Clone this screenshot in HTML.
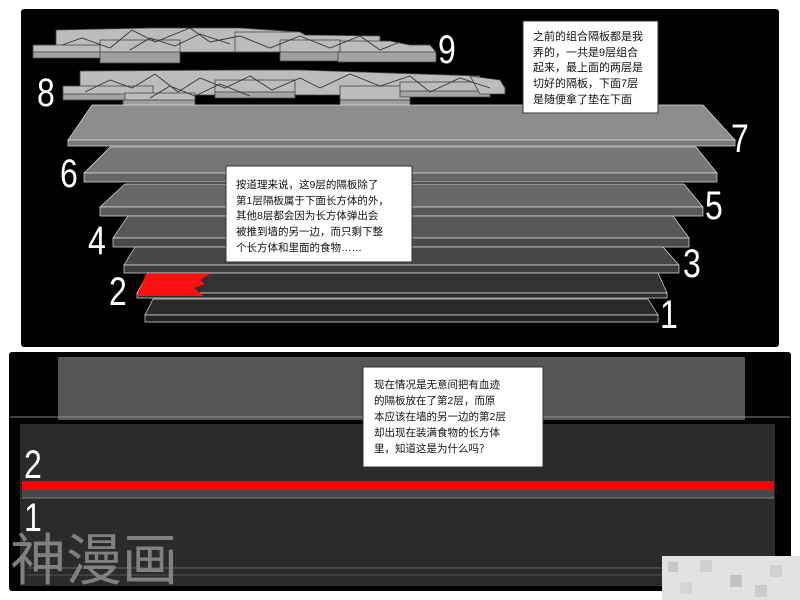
<!DOCTYPE html>
<html><head><meta charset="utf-8"><style>
html,body{margin:0;padding:0;background:#fff;width:800px;height:600px;overflow:hidden}
svg{display:block}
.t{font-family:"Liberation Sans","Noto Sans CJK SC",sans-serif;}
</style></head><body>
<svg width="800" height="600" viewBox="0 0 800 600" xmlns="http://www.w3.org/2000/svg">
<rect x="0" y="0" width="800" height="600" fill="#fff"/>
<rect x="21" y="9" width="758" height="338" rx="3" fill="#000"/>
<!-- puzzle row 9 -->
<g fill="#bcbcbc" stroke="#444" stroke-width="0.8">
<polygon points="56,30 150,28 240,28 300,32 300,52 56,52"/>
<rect x="33" y="45" width="110" height="10"/><rect x="33" y="52" width="110" height="6" fill="#a4a4a4"/>
<rect x="100" y="40" width="80" height="14"/><rect x="100" y="52" width="80" height="11" fill="#a0a0a0"/>
<polygon points="235,32 300,32 305,35 380,36 380,52 235,52"/>
<rect x="280" y="40" width="60" height="14"/><rect x="280" y="52" width="60" height="9" fill="#a0a0a0"/>
<polygon points="340,41 390,41 410,45 430,45 436,52 436,58 340,58"/><rect x="338" y="52" width="98" height="10" fill="#a4a4a4"/>
</g>
<g fill="none" stroke="#333" stroke-width="0.9">
<polyline points="62,45 82,38 110,48 132,30 155,42 190,28 210,42 240,36 270,48 300,36 330,48 360,36 380,50 400,42"/>
<polyline points="130,50 150,38 175,46 200,34 230,44"/>
</g>
<!-- puzzle row 8 -->
<g fill="#bcbcbc" stroke="#444" stroke-width="0.8">
<polygon points="80,71 240,70 300,70 360,72 480,76 480,95 80,95"/>
<rect x="63" y="86" width="90" height="10"/><rect x="63" y="94" width="90" height="6" fill="#a4a4a4"/>
<rect x="125" y="93" width="70" height="10"/><rect x="123" y="100" width="72" height="8" fill="#a0a0a0"/>
<rect x="215" y="80" width="80" height="16"/><rect x="215" y="92" width="80" height="6" fill="#a4a4a4"/>
<rect x="340" y="86" width="70" height="14"/><rect x="340" y="100" width="70" height="10" fill="#a0a0a0"/>
<rect x="400" y="82" width="90" height="12"/><rect x="400" y="91" width="90" height="6" fill="#a4a4a4"/>
<polygon points="470,76 500,80 505,88 505,94 480,94"/>
</g>
<g fill="none" stroke="#333" stroke-width="0.9">
<polyline points="85,92 110,80 132,88 155,74 178,92 200,78 225,88 250,76 272,90 300,78 320,88 350,74 380,86 410,76 430,92 460,78 490,88"/>
<polyline points="150,98 170,86 195,96 220,84 250,96"/>
</g>
<!-- plates -->
<g stroke="#dcdcdc" stroke-width="0.7">
<polygon points="92,105 703,105 735,140 68,140" fill="#8d8d8d"/><polygon points="68,140 735,140 735,146 68,146" fill="#7a7a7a"/>
<polygon points="110,147 696,147 717,173 84,173" fill="#777"/><polygon points="84,173 717,173 717,182 84,182" fill="#666"/>
<polygon points="125,184 684,184 703,207 100,207" fill="#686868"/><polygon points="100,207 703,207 703,216 100,216" fill="#595959"/>
<polygon points="128,216 673,216 689,238 113,238" fill="#575757"/><polygon points="113,238 689,238 689,247 113,247" fill="#4a4a4a"/>
<polygon points="135,247 663,247 679,265 124,265" fill="#474747"/><polygon points="124,265 679,265 679,273 124,273" fill="#3c3c3c"/>
<polygon points="148,273 658,273 667,293 137,293" fill="#323232"/><polygon points="137,293 667,293 667,298 137,298" fill="#2a2a2a"/>
<polygon points="153,299 648,299 658,315 145,315" fill="#2a2a2a"/><polygon points="145,315 658,315 658,322 145,322" fill="#222"/>
</g>
<polygon points="146,274 210,274 200,280 205,284 194,288 204,296 137,296" fill="#ff1010"/>
<g class="t" fill="#fff" font-size="40">
<text transform="translate(438,63) scale(0.8,1)">9</text>
<text transform="translate(37,106) scale(0.8,1)">8</text>
<text transform="translate(731,152) scale(0.8,1)">7</text>
<text transform="translate(60,187) scale(0.8,1)">6</text>
<text transform="translate(705,219) scale(0.8,1)">5</text>
<text transform="translate(88,254) scale(0.8,1)">4</text>
<text transform="translate(683,277) scale(0.8,1)">3</text>
<text transform="translate(109,305) scale(0.8,1)">2</text>
<text transform="translate(660,328) scale(0.8,1)">1</text>
</g>
<rect x="523" y="21" width="135" height="92" fill="#fff" stroke="#333"/>
<g class="t" font-size="11" fill="#111">
<text x="533" y="40">之前的组合隔板都是我</text>
<text x="533" y="56">弄的，一共是9层组合</text>
<text x="533" y="71">起来，最上面的两层是</text>
<text x="533" y="87">切好的隔板，下面7层</text>
<text x="533" y="103">是随便拿了垫在下面</text>
</g>
<rect x="226" y="166" width="186" height="96" fill="#fff" stroke="#333"/>
<g class="t" font-size="10.5" fill="#111">
<text x="236" y="188">按道理来说，这9层的隔板除了</text>
<text x="236" y="204">第1层隔板属于下面长方体的外，</text>
<text x="236" y="219">其他8层都会因为长方体弹出会</text>
<text x="236" y="235">被推到墙的另一边，而只剩下整</text>
<text x="236" y="251">个长方体和里面的食物……</text>
</g>
<!-- bottom panel -->
<rect x="9" y="352" width="782" height="239" rx="3" fill="#000"/>
<polygon points="58,357 745,357 745,420 58,420" fill="#555"/>
<line x1="10" y1="417" x2="790" y2="417" stroke="#aaa" stroke-width="0.7"/>
<rect x="20" y="424" width="755" height="162" fill="#2b2b2b"/>
<rect x="22" y="481" width="752" height="9" fill="#f00"/>
<rect x="22" y="490" width="752" height="8" fill="#474747"/>
<line x1="22" y1="498" x2="774" y2="498" stroke="#999" stroke-width="0.7"/>
<line x1="28" y1="568" x2="770" y2="568" stroke="#777" stroke-width="0.7"/>
<line x1="28" y1="575" x2="770" y2="575" stroke="#666" stroke-width="0.7"/>
<g class="t" fill="#fff" font-size="40">
<text transform="translate(24,478) scale(0.8,1)">2</text>
<text transform="translate(24,531) scale(0.8,1)">1</text>
</g>
<rect x="363" y="367" width="180" height="100" fill="#fff" stroke="#333"/>
<g class="t" font-size="10.5" fill="#111">
<text x="374" y="388">现在情况是无意间把有血迹</text>
<text x="374" y="404">的隔板放在了第2层，而原</text>
<text x="374" y="420">本应该在墙的另一边的第2层</text>
<text x="374" y="436">却出现在装满食物的长方体</text>
<text x="374" y="452">里，知道这是为什么吗？</text>
</g>
<text class="t" x="10" y="580" font-size="56" fill="#8a8a8a" fill-opacity="0.9">神漫画</text>
<g>
<rect x="662" y="556" width="138" height="44" fill="#e2e2e2"/>
<rect x="668" y="562" width="10" height="10" fill="#c8c8c8"/><rect x="700" y="560" width="12" height="12" fill="#d0d0d0"/>
<rect x="730" y="575" width="12" height="12" fill="#c4c4c4"/><rect x="770" y="565" width="12" height="12" fill="#cfcfcf"/>
<rect x="680" y="582" width="12" height="12" fill="#d4d4d4"/><rect x="755" y="585" width="12" height="12" fill="#cccccc"/>
</g>
</svg>
</body></html>
